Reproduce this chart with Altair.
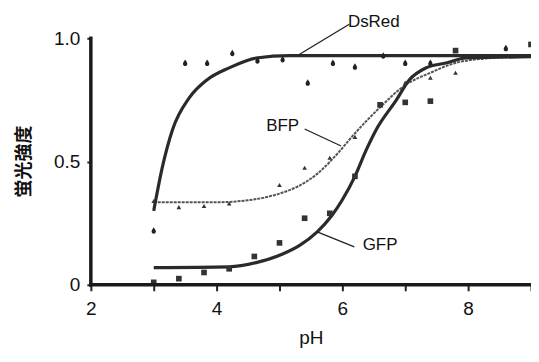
import altair as alt
import pandas as pd

# ---- data ----
dsred_ph = [3.0, 3.5, 3.85, 4.25, 4.65, 5.05, 5.45, 5.85, 6.2, 6.65, 7.0, 7.4, 8.6]
dsred_val = [0.22, 0.90, 0.90, 0.94, 0.91, 0.915, 0.82, 0.90, 0.885, 0.93, 0.90, 0.90, 0.96]

bfp_ph = [3.0, 3.4, 3.8, 4.2, 5.0, 5.4, 5.8, 6.2, 7.0, 7.4, 7.8]
bfp_val = [0.34, 0.315, 0.32, 0.33, 0.405, 0.475, 0.515, 0.60, 0.82, 0.84, 0.86]

gfp_ph = [3.0, 3.4, 3.8, 4.2, 4.6, 5.0, 5.4, 5.8, 6.2, 6.6, 7.0, 7.4, 7.8, 9.0]
gfp_val = [0.01, 0.025, 0.05, 0.065, 0.115, 0.17, 0.27, 0.29, 0.44, 0.73, 0.74, 0.745, 0.95, 0.975]

dsred_curve_ph = [3.0, 3.14, 3.3, 3.57, 3.84, 4.2, 4.63, 5.16, 6.0, 7.0, 8.0, 9.0]
dsred_curve_val = [0.30, 0.48, 0.63, 0.76, 0.83, 0.88, 0.92, 0.93, 0.93, 0.93, 0.93, 0.93]

bfp_curve_ph = [3.0, 3.5, 4.0, 4.5, 5.0, 5.3, 5.6, 5.95, 6.15, 6.6, 7.0, 7.4, 7.8, 8.4, 9.0]
bfp_curve_val = [0.335, 0.335, 0.335, 0.343, 0.37, 0.40, 0.45, 0.54, 0.60, 0.72, 0.81, 0.86, 0.90, 0.92, 0.925]

gfp_curve_ph = [3.0, 4.2, 4.63, 5.05, 5.32, 5.6, 5.83, 6.0, 6.2, 6.38, 6.54, 6.86, 7.06, 7.33, 7.65, 7.97, 9.0]
gfp_curve_val = [0.07, 0.073, 0.09, 0.125, 0.16, 0.215, 0.28, 0.345, 0.44, 0.547, 0.63, 0.75, 0.83, 0.88, 0.90, 0.92, 0.925]

label_names = ["DsRed", "BFP", "GFP"]
label_ph = [6.5, 5.05, 6.6]
label_val = [1.065, 0.644, 0.162]
leader_ph1 = [5.32, 5.4, 6.19]
leader_val1 = [0.935, 0.632, 0.154]
leader_ph2 = [6.11, 5.98, 5.6]
leader_val2 = [1.057, 0.563, 0.215]

# axis lines (data extents)
axis_x_from = [2, 2]
axis_x_to = [9, 2]
axis_y_from = [0, 0]
axis_y_to = [0, 1.0]

x_ticks = [2, 3, 4, 5, 6, 7, 8, 9]
y_ticks = [0, 0.5, 1.0]

dsred_df = pd.DataFrame({"pH": dsred_ph, "v": dsred_val})
bfp_df = pd.DataFrame({"pH": bfp_ph, "v": bfp_val})
gfp_df = pd.DataFrame({"pH": gfp_ph, "v": gfp_val})
dsred_c = pd.DataFrame({"pH": dsred_curve_ph, "v": dsred_curve_val})
bfp_c = pd.DataFrame({"pH": bfp_curve_ph, "v": bfp_curve_val})
gfp_c = pd.DataFrame({"pH": gfp_curve_ph, "v": gfp_curve_val})
labels_df = pd.DataFrame({"name": label_names, "pH": label_ph, "v": label_val})
leaders_df = pd.DataFrame({"pH": leader_ph1, "v": leader_val1, "x2": leader_ph2, "y2": leader_val2})
axes_df = pd.DataFrame({"pH": axis_x_from, "v": axis_y_from, "x2": axis_x_to, "y2": axis_y_to})

FONT = "Liberation Sans"
xs = alt.Scale(domain=[2, 9], nice=False, zero=False)
ys = alt.Scale(domain=[0, 1.0], nice=False)

x_axis = alt.Axis(
    values=x_ticks, title="pH", grid=False, domain=False,
    labelExpr="datum.value % 2 == 0 ? format(datum.value, 'd') : ''",
    labelFlush=False, titlePadding=10, tickSize=6, labelPadding=9,
)
y_axis = alt.Axis(
    values=y_ticks, title="蛍光強度", grid=False, domain=False,
    labelExpr="datum.value == 0 ? '0' : format(datum.value, '.1f')",
    labelFlush=False,
    titleFont="Noto Sans CJK JP", titleFontSize=18, titleFontWeight="bold",
    titleX=-66, titleY=123, titleAngle=-90, titleAlign="center", titleBaseline="middle",
    tickSize=4, labelPadding=7,
)

X = alt.X("pH:Q", scale=xs, axis=x_axis)
Y = alt.Y("v:Q", scale=ys, axis=y_axis)

axis_lines = alt.Chart(axes_df).mark_rule(color="#1a1a1a", strokeWidth=3.5, strokeCap="square").encode(
    x=X, y=Y, x2="x2:Q", y2="y2:Q",
)

l_dsred = alt.Chart(dsred_c).mark_line(interpolate="monotone", color="#2a2a2a", strokeWidth=3.2).encode(x=X, y=Y)
l_gfp = alt.Chart(gfp_c).mark_line(interpolate="monotone", color="#2a2a2a", strokeWidth=3.2).encode(x=X, y=Y)
l_bfp = alt.Chart(bfp_c).mark_line(interpolate="monotone", color="#555", strokeWidth=2, strokeDash=[3, 1]).encode(x=X, y=Y)

drop = "M0,-1 C0.3,-0.45 0.65,-0.1 0.65,0.3 A0.65,0.65 0 1,1 -0.65,0.3 C-0.65,-0.1 -0.3,-0.45 0,-1 Z"
p_dsred = alt.Chart(dsred_df).mark_point(shape=drop, filled=True, color="#222", size=45, opacity=1).encode(x=X, y=Y)
p_bfp = alt.Chart(bfp_df).mark_point(shape="triangle-up", filled=True, color="#333", size=22, opacity=1).encode(x=X, y=Y)
p_gfp = alt.Chart(gfp_df).mark_point(shape="square", filled=True, color="#333", size=32, opacity=1).encode(x=X, y=Y)

leaders = alt.Chart(leaders_df).mark_rule(color="#222", strokeWidth=1.3).encode(
    x=X, y=Y, x2="x2:Q", y2="y2:Q",
)
texts = alt.Chart(labels_df).mark_text(font=FONT, fontSize=17, color="#111", align="center", baseline="middle").encode(
    x=X, y=Y, text="name:N"
)

chart = alt.layer(l_bfp, l_gfp, l_dsred, p_bfp, p_gfp, p_dsred, leaders, texts, axis_lines).properties(
    width=441, height=247,
    background="white",
    autosize=alt.AutoSizeParams(type="none"),
    padding={"left": 83, "top": 30, "right": 0, "bottom": 70},
).configure_view(stroke="transparent", strokeOpacity=0).configure_axis(
    domain=False, grid=False,
    tickColor="#222", tickWidth=2,
    labelFont=FONT, labelFontSize=19, labelColor="#111",
    titleFont=FONT, titleFontSize=19, titleFontWeight="normal", titleColor="#111",
).configure_axisY(titleFont="Noto Sans CJK JP", titleFontSize=18, titleFontWeight="bold")

chart.save("out.html", embed_options={"renderer": "svg", "actions": False})
